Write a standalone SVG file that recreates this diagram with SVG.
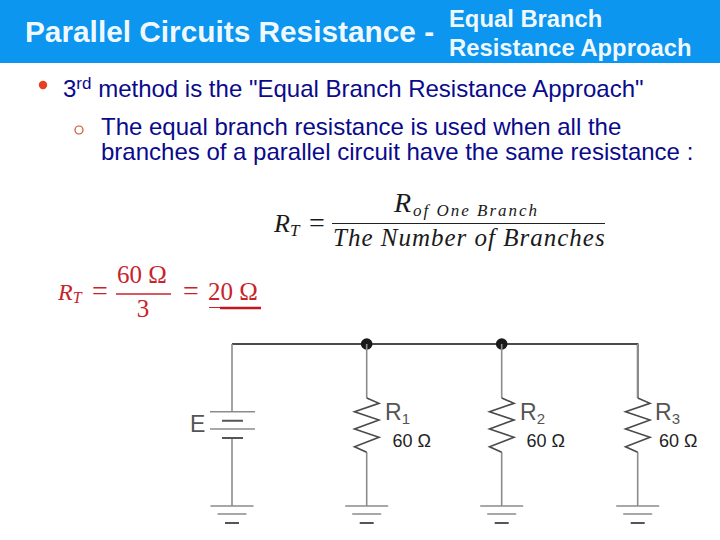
<svg xmlns="http://www.w3.org/2000/svg" width="720" height="540" viewBox="0 0 720 540">
<style>
.s{font-family:"Liberation Sans",Arial,sans-serif}
.h{fill:#fff;font-weight:bold;fill-opacity:.96}
.b{fill:#0a0a8c;font-size:24px}
.m{font-family:"Liberation Serif","Times New Roman",serif}
.i{font-style:italic}
.k{fill:#1a1a1a}
.r{fill:#c8232a}
.w{stroke:#8c8c8c;stroke-width:1.6;fill:none}
.z{stroke:#4a4a4a;stroke-width:1.6;fill:none}
.t{stroke:#111;stroke-width:1.6;fill:none}
.g2{stroke:#555;stroke-width:2;fill:none}
.l{fill:#555;font-size:23px}
.v{fill:#222;font-size:18px}
.sub{font-size:15px}
</style>
<defs>
<g id="zig"><path d="M0 108.300V162M0 0V54" class="w"/><path d="M0 54L12.300 59.300L-12.200 67.700L12.300 76L-12.200 85L12.300 93.300L-12.200 102.700L0 108.300" class="z"/></g>
<g id="gnd"><path d="M-21.500 0H21.500M-14.500 8H14.500" class="w"/><path d="M-7 17H7" class="g2"/></g>
</defs>
<rect id="header" x="0" y="0" width="720" height="63" fill="#0c96ef"/>
<g id="title">
<text class="s h" x="25" y="42" font-size="29.800">Parallel Circuits Resistance -</text>
<text class="s h" x="449" y="27" font-size="23.800">Equal Branch</text>
<text class="s h" x="449" y="56" font-size="23.800">Resistance Approach</text>
</g>
<g id="body">
<circle cx="43" cy="85" r="4.200" fill="#e8401c"/>
<text class="s b" x="63" y="97">3<tspan font-size="17" dy="-8">rd</tspan><tspan dy="8"> method is the "Equal Branch Resistance Approach"</tspan></text>
<circle cx="79" cy="130" r="4" fill="none" stroke="#c8502a" stroke-width="1.200"/>
<text class="s b" x="101" y="135">The equal branch resistance is used when all the</text>
<text class="s b" x="101" y="160">branches of a parallel circuit have the same resistance :</text>
</g>
<g id="formula">
<text class="m i k" x="274" y="232" font-size="26">R<tspan font-size="17" dy="4">T</tspan></text>
<text class="m k" x="309" y="232" font-size="28">=</text>
<path d="M332 223.500H605" stroke="#222" stroke-width="1.200"/>
<text class="m i k" x="394" y="212" font-size="28">R</text>
<text class="m i k" x="413" y="216" font-size="17" letter-spacing="2">of One Branch</text>
<text class="m i k" x="333" y="246" font-size="25" letter-spacing="1">The Number of Branches</text>
</g>
<g id="result">
<text class="m i r" x="58" y="300" font-size="24">R<tspan font-size="16" dy="3">T</tspan></text>
<text class="m r" x="92" y="300" font-size="28">=</text>
<path d="M116 294H171" stroke="#c8232a" stroke-width="1.400"/>
<text class="m r" x="142" y="283" font-size="25" text-anchor="middle">60 Ω</text>
<text class="m r" x="143" y="317" font-size="25" text-anchor="middle">3</text>
<text class="m r" x="183" y="300" font-size="28">=</text>
<text class="m r" x="208" y="300" font-size="25">20 Ω</text>
<path d="M209 307.500H261" stroke="#c8232a" stroke-width="1"/>
<path d="M220 308H261" stroke="#c4161c" stroke-width="2.400"/>
</g>
<g id="connectors">
<path d="M232 344H637.700V398" class="t"/>
<path d="M232 344V412M232 438V506" class="w"/>
<path d="M210 411.700H255M210 429H255" class="w"/>
<path d="M222 420.700H243M222 438H243" class="g2"/>
</g>
<g id="battery"><text class="s l" x="190" y="432">E</text><use href="#gnd" x="232" y="506"/></g>
<g id="r1">
<circle cx="366.700" cy="344" r="5.800" fill="#1a1a1a"/>
<use href="#zig" x="366.700" y="344"/>
<use href="#gnd" x="366.700" y="506"/>
<text class="s l" x="385" y="420">R<tspan class="sub" dy="4">1</tspan></text>
<text class="s v" x="392.500" y="447">60 Ω</text>
</g>
<g id="r2">
<circle cx="501.700" cy="344" r="5.800" fill="#1a1a1a"/>
<use href="#zig" x="501.700" y="344"/>
<use href="#gnd" x="501.700" y="506"/>
<text class="s l" x="520" y="420">R<tspan class="sub" dy="4">2</tspan></text>
<text class="s v" x="526.500" y="447">60 Ω</text>
</g>
<g id="r3">
<use href="#zig" x="637.700" y="344"/>
<use href="#gnd" x="637.700" y="506"/>
<text class="s l" x="655" y="420">R<tspan class="sub" dy="4">3</tspan></text>
<text class="s v" x="659" y="447">60 Ω</text>
</g>
</svg>
